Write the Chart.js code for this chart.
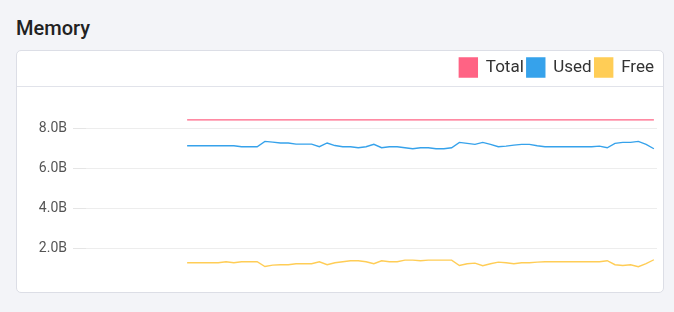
<!DOCTYPE html>
<html>
<head>
<meta charset="utf-8">
<script src="https://cdn.jsdelivr.net/npm/chart.js@4/dist/chart.umd.min.js"></script>
<style>
  html, body { margin: 0; padding: 0; }
  body {
    width: 674px;
    height: 312px;
    background: #f3f4f8;
    font-family: Roboto, "Noto Sans", sans-serif;
    position: relative;
    overflow: hidden;
  }
  h2 {
    position: absolute;
    left: 16px;
    top: 16px;
    margin: 0;
    font-size: 20px;
    font-weight: 500;
    color: #222;
  }
  .card {
    position: absolute;
    left: 16px;
    top: 50px;
    width: 648px;
    height: 243px;
    box-sizing: border-box;
    background: #fff;
    border: 1px solid #dcdee6;
    border-radius: 5px;
  }
  .card .sep {
    position: absolute;
    left: 0;
    right: 0;
    top: 35px;
    height: 1px;
    background: #e1e3ea;
  }
  .card .wrap {
    position: absolute;
    left: 0;
    top: 0;
    width: 646px;
    height: 241px;
  }
</style>
</head>
<body>
<h2>Memory</h2>
<div class="card">
  <div class="sep"></div>
  <div class="wrap"><canvas id="memory-chart"></canvas></div>
</div>
<script>
/***** Data (GB) *****/
const minutes = [
  0, 1, 2, 3, 4, 5, 6, 7, 8, 9, 10, 11, 12, 13, 14, 15, 16, 17, 18, 19, 20,
  21, 22, 23, 24, 25, 26, 27, 28, 29, 30, 31, 32, 33, 34, 35, 36, 37, 38, 39,
  40, 41, 42, 43, 44, 45, 46, 47, 48, 49, 50, 51, 52, 53, 54, 55, 56, 57, 58,
  59, 60,
];

const totalMem = [
  8.45, 8.45, 8.45, 8.45, 8.45, 8.45, 8.45, 8.45, 8.45, 8.45,
  8.45, 8.45, 8.45, 8.45, 8.45, 8.45, 8.45, 8.45, 8.45, 8.45,
  8.45, 8.45, 8.45, 8.45, 8.45, 8.45, 8.45, 8.45, 8.45, 8.45,
  8.45, 8.45, 8.45, 8.45, 8.45, 8.45, 8.45, 8.45, 8.45, 8.45,
  8.45, 8.45, 8.45, 8.45, 8.45, 8.45, 8.45, 8.45, 8.45, 8.45,
  8.45, 8.45, 8.45, 8.45, 8.45, 8.45, 8.45, 8.45, 8.45, 8.45,
  8.45,
];

const usedMem = [
  7.15, 7.15, 7.15, 7.15, 7.15, 7.15, 7.15, 7.10, 7.10, 7.10,
  7.37, 7.33, 7.29, 7.29, 7.23, 7.23, 7.23, 7.10, 7.29, 7.16,
  7.10, 7.10, 7.05, 7.10, 7.22, 7.05, 7.10, 7.10, 7.05, 7.00,
  7.05, 7.05, 7.00, 7.00, 7.05, 7.32, 7.27, 7.22, 7.32, 7.22,
  7.10, 7.13, 7.18, 7.22, 7.22, 7.15, 7.10, 7.10, 7.10, 7.10,
  7.10, 7.10, 7.10, 7.13, 7.05, 7.27, 7.32, 7.32, 7.37, 7.22,
  7.00,
];

const freeMem = [
  1.27, 1.27, 1.27, 1.27, 1.27, 1.32, 1.27, 1.32, 1.32, 1.32,
  1.08, 1.15, 1.17, 1.17, 1.22, 1.22, 1.22, 1.32, 1.17, 1.27,
  1.32, 1.37, 1.37, 1.32, 1.22, 1.37, 1.32, 1.32, 1.40, 1.40,
  1.37, 1.40, 1.40, 1.40, 1.40, 1.13, 1.22, 1.25, 1.12, 1.22,
  1.30, 1.27, 1.22, 1.27, 1.27, 1.30, 1.32, 1.32, 1.32, 1.32,
  1.32, 1.32, 1.32, 1.32, 1.37, 1.17, 1.13, 1.17, 1.07, 1.22,
  1.42,
];

const seriesNames = ["Total", "Used", "Free"];
const seriesColors = ["#ff6384", "#36a2eb", "#ffcd56"];

/***** Helpers *****/
// pairs x (minute) with y values for the linear x scale
const toPoints = (values) => values.map((v, i) => ({ x: minutes[i], y: v }));

// adds some space under the legend
const legendGap = {
  id: "legendGap",
  beforeInit: (chart) => {
    const origFit = chart.legend.fit;
    chart.legend.fit = function () {
      origFit.bind(chart.legend)();
      this.height += 12;
    };
  },
};

const datasets = [totalMem, usedMem, freeMem].map((values, i) => ({
  label: seriesNames[i],
  data: toPoints(values),
  borderColor: seriesColors[i],
  backgroundColor: seriesColors[i],
  borderWidth: 1.4,
  pointRadius: 0,
  tension: 0,
  fill: false,
}));

new Chart(document.querySelector("#memory-chart"), {
  type: "line",
  data: { datasets: datasets },
  plugins: [legendGap],
  options: {
    responsive: true,
    maintainAspectRatio: false,
    animation: false,
    layout: { padding: { top: 4, left: 22, right: 6, bottom: 4 } },
    plugins: {
      legend: {
        position: "top",
        align: "end",
        labels: {
          boxWidth: 18,
          boxHeight: 19,
          padding: 3,
          color: "#333",
          font: { family: "Roboto", size: 17 },
        },
      },
      tooltip: { enabled: false },
    },
    scales: {
      x: {
        type: "linear",
        min: -13,
        max: 60.4,
        display: false,
      },
      y: {
        min: 0,
        max: 9.5,
        border: { display: false },
        grid: {
          color: "rgba(0,0,0,0.07)",
          tickColor: "rgba(0,0,0,0.1)",
          tickLength: 13,
        },
        ticks: {
          stepSize: 2,
          padding: 6,
          color: "#555",
          font: { family: "Roboto", size: 14 },
          callback: (value) =>
            value !== 0 && value % 2 === 0 ? value.toFixed(1) + "B" : null,
        },
        // fixed axis width, no extra label padding above/below
        afterFit: (scale) => {
          scale.width = 47;
          scale.paddingTop = 0;
          scale.paddingBottom = 0;
        },
      },
    },
  },
});
</script>
</body>
</html>
